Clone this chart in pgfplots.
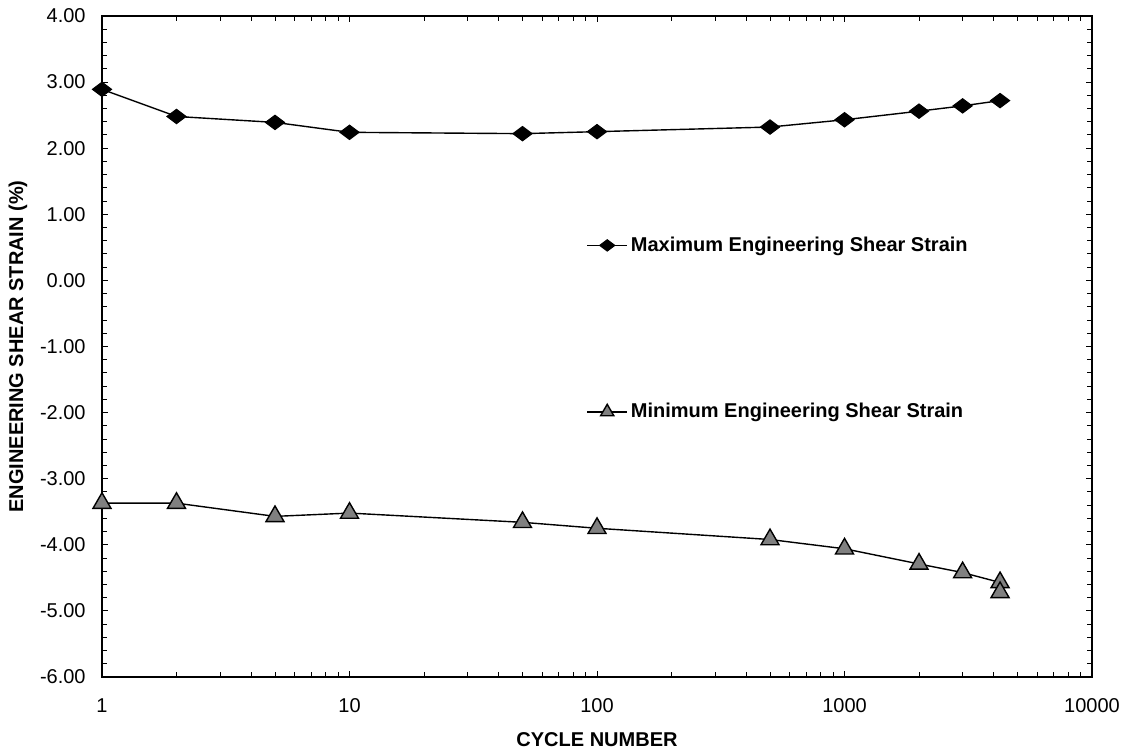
\documentclass[border=0pt]{standalone}
\usepackage{fontspec}
\setmainfont{Liberation Sans}
\usepackage{pgfplots}
\pgfplotsset{compat=1.18}

\definecolor{markgray}{RGB}{128,128,128}

\begin{document}
\begin{tikzpicture}
\begin{axis}[
  scale only axis,
  width=495pt, height=330.5pt,
  xmode=log,
  xmin=1, xmax=10000,
  ymin=-6, ymax=4,
  xtick={1,10,100,1000,10000},
  xticklabels={1,10,100,1000,10000},
  ytick={-6,-5,...,4},
  minor y tick num=4,
  /pgf/number format/assume math mode=true,
  yticklabel={\pgfmathprintnumber[fixed,fixed zerofill,precision=2]{\tick}},
  font=\fontsize{10pt}{12pt}\selectfont,
  tick label style={font=\fontsize{10pt}{12pt}\selectfont},
  xticklabel style={anchor=center, yshift=-14.5pt},
  yticklabel style={anchor=east, inner sep=0pt, xshift=-8pt},
  major tick length=3pt,
  minor tick length=2.5pt,
  every tick/.style={black, line width=0.5pt},
  axis line style={line width=0.8pt},
  xlabel={\bfseries CYCLE NUMBER},
  ylabel={\bfseries ENGINEERING SHEAR STRAIN (\%)},
  xlabel style={at={(axis description cs:0.5,-0.094)}, anchor=center},
  ylabel style={at={(axis description cs:-0.085,0.5)}, anchor=center},
  legend style={draw=none, fill=none, at={(rel axis cs:0.489,0.527)}, anchor=west,
    inner sep=0pt, row sep=71.5pt, font=\fontsize{10pt}{12pt}\selectfont\bfseries,
    nodes={inner sep=1.5pt}},
  legend cell align=left,
  legend image code/.code={%
    \draw[mark repeat=2,mark phase=2,mark size=3.8pt] plot coordinates {(0pt,0pt) (10pt,0pt) (20pt,0pt)};},
]
\addplot[black, line width=0.7pt, mark=diamond*, mark size=4.8pt,
  mark options={rotate=90, fill=black, line width=0.5pt}]
  coordinates {
    (1,2.89) (2,2.48) (5,2.39) (10,2.24) (50,2.22) (100,2.25)
    (500,2.32) (1000,2.43) (2000,2.56) (3000,2.64) (4250,2.72)
  };
\addlegendentry{Maximum Engineering Shear Strain}
\addplot[black, line width=0.7pt, mark=triangle*, mark size=5.2pt,
  mark options={fill=markgray, draw=black, line width=0.7pt}]
  coordinates {
    (1,-3.37) (2,-3.37) (5,-3.57) (10,-3.52) (50,-3.66) (100,-3.75)
    (500,-3.92) (1000,-4.06) (2000,-4.29) (3000,-4.42) (4250,-4.57) (4250,-4.72)
  };
\addlegendentry{Minimum Engineering Shear Strain}
\end{axis}
\pgfresetboundingbox
\useasboundingbox (-51pt,-36.5pt) rectangle (512.5pt,338.5pt);
\end{tikzpicture}
\end{document}
